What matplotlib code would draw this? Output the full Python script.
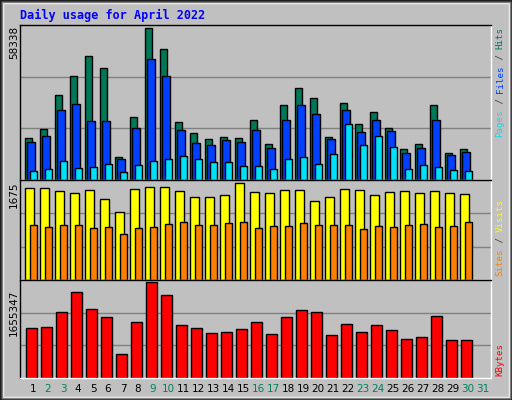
import matplotlib
matplotlib.use("Agg")
import matplotlib.pyplot as plt
from matplotlib.patches import Rectangle
import numpy as np

days = list(range(1, 31))
day_labels = [str(d) for d in range(1, 32)]
weekend = [2, 3, 9, 10, 16, 17, 23, 24, 30, 31]
hits = [15970, 19530, 32600, 40120, 47650, 42900, 8840, 24290, 58338, 50420, 22300, 17950, 15570, 16370, 15970, 23100, 13990, 28640, 35370, 31410, 16370, 29430, 21510, 26260, 19930, 12010, 13990, 28640, 10430, 12010]
files = [14780, 16760, 27060, 29040, 22700, 22700, 8050, 19930, 46460, 40120, 19140, 14390, 13600, 15180, 14780, 19140, 12410, 23100, 28640, 25480, 15580, 27060, 18350, 23100, 18740, 10430, 12410, 23100, 9640, 10820]
pages = [3300, 4090, 7260, 4490, 4880, 6070, 2900, 5680, 7260, 8050, 9240, 8050, 6860, 6860, 5280, 5280, 4090, 8050, 8840, 6070, 10030, 21510, 13600, 16760, 12800, 4090, 5680, 4880, 3700, 3300]
visits = [1585, 1585, 1531, 1494, 1549, 1404, 1167, 1567, 1603, 1603, 1531, 1422, 1422, 1458, 1675, 1513, 1494, 1549, 1549, 1367, 1422, 1567, 1549, 1458, 1513, 1531, 1494, 1531, 1494, 1476]
sites = [949, 913, 949, 949, 895, 913, 786, 895, 913, 968, 1004, 949, 949, 986, 1004, 895, 931, 931, 986, 949, 949, 949, 877, 931, 913, 949, 968, 913, 931, 1004]
kbytes = [658000, 670000, 878000, 1141000, 911000, 802000, 316000, 737000, 1262000, 1097000, 699000, 655000, 600000, 611000, 644000, 737000, 584000, 802000, 901000, 868000, 573000, 716000, 611000, 705000, 628000, 519000, 540000, 813000, 497000, 497000]
kbytes = [v * 1655347 / 1262000 for v in kbytes]
hits_max, visits_max, kb_max = 58338, 1675, 1655347

BG = "#c0c0c0"
C_HITS, C_FILES, C_PAGES = "#007858", "#0040ff", "#00e0f8"
C_VIS, C_SITES, C_KB = "#ffff00", "#ff8000", "#ff0000"
MONO = "DejaVu Sans Mono"

fig = plt.figure(figsize=(5.12, 4.0), dpi=100, facecolor=BG)
W, H = 512, 400
def ax_at(x0, y0, x1, y1):
    return fig.add_axes([x0 / W, 1 - y1 / H, (x1 - x0) / W, (y1 - y0) / H])

fig.patches.append(Rectangle((0, 0), 1, 1, transform=fig.transFigure, fill=False, ec="#202020", lw=2))
fig.patches.append(Rectangle((3 / W, 3 / H), 1 - 6 / W, 1 - 6 / H, transform=fig.transFigure, fill=False, ec="#ffffff", lw=1))
fig.patches.append(Rectangle((2 / W, 2 / H), 1 - 4 / W, 1 - 4 / H, transform=fig.transFigure, fill=False, ec="#808080", lw=1))

x = np.array(days, dtype=float)
kw = dict(edgecolor="black", linewidth=1)

def style(ax, top):
    ax.set_facecolor(BG)
    ax.set_xlim(0.13, 31.53)
    ax.set_ylim(0, top)
    ax.set_xticks([]); ax.set_yticks([])
    for s in ax.spines.values():
        s.set_color("black"); s.set_linewidth(1)
    ax.spines["right"].set_color("white"); ax.spines["bottom"].set_color("white")
    for f in (1 / 3, 2 / 3):
        ax.axhline(top * f, color="#808080", lw=1, zorder=0)

a1 = ax_at(20, 25, 491, 180)
top1 = hits_max * 151 / 148
style(a1, top1)
a1.bar(x - 0.30, hits, 0.47, color=C_HITS, **kw)
a1.bar(x - 0.13, files, 0.53, color=C_FILES, **kw)
a1.bar(x + 0.02, pages, 0.47, color=C_PAGES, **kw)

a2 = ax_at(20, 180, 491, 280)
top2 = visits_max * 285 / 277
style(a2, top2)
a2.bar(x - 0.23, visits, 0.6, color=C_VIS, **kw)
a2.bar(x + 0.03, sites, 0.5, color=C_SITES, **kw)

a3 = ax_at(20, 280, 491, 378)
top3 = kb_max * 281 / 274
style(a3, top3)
a3.bar(x - 0.1, kbytes, 0.7, color=C_KB, **kw)

fig.text(20 / W, 1 - 15 / H, "Daily usage for April 2022", color="#0000ff", family=MONO, weight="bold", fontsize=8.5, va="center")
for yy, lab in [(42, str(hits_max)), (195, str(visits_max)), (313, str(kb_max))]:
    fig.text(14 / W, 1 - yy / H, lab, rotation=90, family="DejaVu Sans", fontsize=7.5, ha="center", va="center")

for i, lab in enumerate(day_labels):
    d = i + 1
    px = 20 + (d - 0.13) * 471 / 31.4
    fig.text(px / W, 1 - 389 / H, lab, color="#008060" if d in weekend else "black",
             family="DejaVu Sans", fontsize=7.5, ha="center", va="center")

FS = 6.6
def right_label(parts, y_bottom):
    cw = 0.602 * FS * 100 / 72
    y = y_bottom
    for txt, col in parts:
        fig.text(500 / W, 1 - y / H, txt, color=col, rotation=90, family=MONO, fontsize=FS,
                 ha="center", va="bottom")
        y -= cw * len(txt)

right_label([("Pages", C_PAGES), (" / ", "#404040"), ("Files", C_FILES), (" / ", "#404040"), ("Hits", C_HITS)], 137)
right_label([("Sites", C_SITES), (" / ", "#404040"), ("Visits", C_VIS)], 276)
right_label([("KBytes", C_KB)], 376)

fig.savefig("out.png", dpi=100, facecolor=BG)
